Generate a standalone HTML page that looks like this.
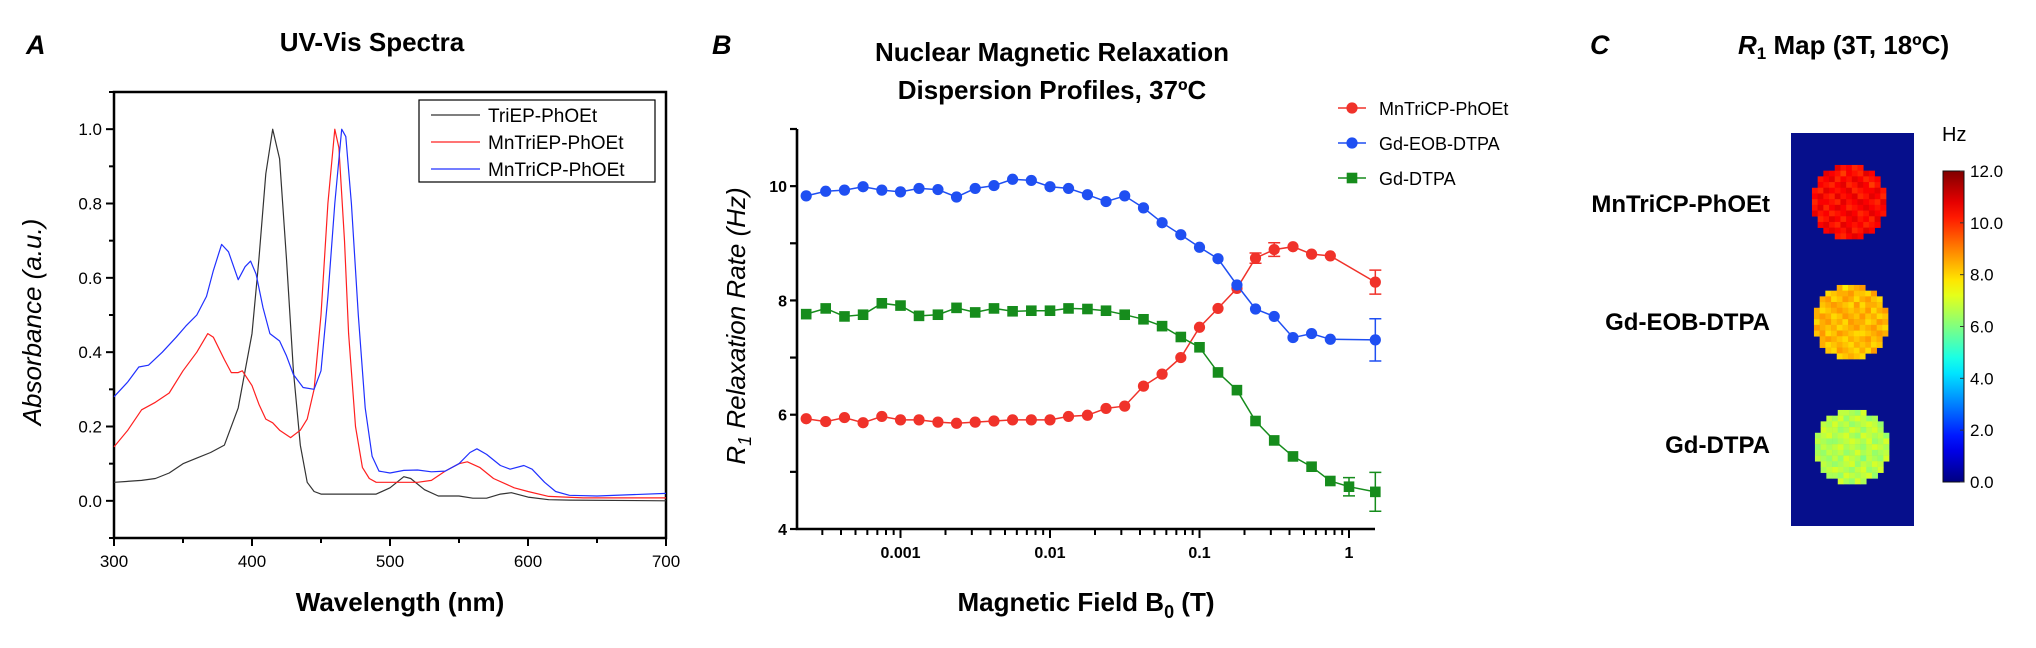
<!DOCTYPE html>
<html><head><meta charset="utf-8">
<style>
html,body{margin:0;padding:0;background:#fff;}
svg{display:block;font-family:"Liberation Sans",Arial,sans-serif;}
</style></head>
<body>
<svg id="fig" width="2036" height="648" viewBox="0 0 2036 648" xmlns="http://www.w3.org/2000/svg">
<g id="pA">
 <text x="26" y="54" font-size="27" font-weight="bold" font-style="italic">A</text>
 <text x="372" y="51" font-size="26" font-weight="bold" text-anchor="middle">UV-Vis Spectra</text>
 <text x="400" y="611" font-size="26" font-weight="bold" text-anchor="middle">Wavelength (nm)</text>
 <text transform="translate(41,322) rotate(-90)" font-size="26" font-style="italic" text-anchor="middle">Absorbance (a.u.)</text>
</g>
<g id="pB">
 <text x="712" y="54" font-size="27" font-weight="bold" font-style="italic">B</text>
 <text x="1052" y="61" font-size="26" font-weight="bold" text-anchor="middle">Nuclear Magnetic Relaxation</text>
 <text x="1052" y="99" font-size="26" font-weight="bold" text-anchor="middle">Dispersion Profiles, 37ºC</text>
 <text x="1086" y="611" font-size="26" font-weight="bold" text-anchor="middle">Magnetic Field B<tspan font-size="18" dy="7">0</tspan><tspan dy="-7"> (T)</tspan></text>
 <text transform="translate(745,326) rotate(-90)" font-size="26" font-style="italic" text-anchor="middle">R<tspan font-size="18" dy="6">1</tspan><tspan dy="-6"> Relaxation Rate (Hz)</tspan></text>
</g>
<g id="pC">
 <text x="1590" y="54" font-size="27" font-weight="bold" font-style="italic">C</text>
 <text x="1738" y="54" font-size="26" font-weight="bold"><tspan font-style="italic">R</tspan><tspan font-size="17" dy="5">1</tspan><tspan dy="-5"> Map (3T, 18ºC)</tspan></text>
</g>
</svg>
<script>
const NS="http://www.w3.org/2000/svg";
function mk(tag,attrs,parent){const e=document.createElementNS(NS,tag);for(const k in attrs)e.setAttribute(k,attrs[k]);parent.appendChild(e);return e;}

// ---------- Panel A data ----------
const uvSeriesNames=["TriEP-PhOEt","MnTriEP-PhOEt","MnTriCP-PhOEt"];
const uvColors=["#333333","#ff2020","#2030ff"];
const triepWl=[300,320,330,340,350,360,370,380,390,400,405,410,415,420,425,430,435,440,445,450,470,490,500,510,515,525,535,550,560,570,580,588,600,615,630,700];
const triepAbs=[0.05,0.055,0.06,0.075,0.1,0.115,0.13,0.15,0.25,0.45,0.65,0.88,1.0,0.92,0.65,0.35,0.15,0.05,0.025,0.018,0.018,0.018,0.035,0.065,0.06,0.03,0.013,0.013,0.007,0.007,0.018,0.022,0.01,0.003,0.002,0.0];
const mnepWl=[300,310,320,330,340,350,360,368,372,380,385,390,393,400,405,410,415,420,428,435,440,445,450,455,460,463,467,470,475,480,485,490,500,520,530,540,550,556,565,575,590,600,615,640,700];
const mnepAbs=[0.145,0.19,0.245,0.265,0.29,0.35,0.4,0.45,0.44,0.38,0.345,0.345,0.35,0.31,0.26,0.22,0.21,0.19,0.17,0.19,0.22,0.3,0.5,0.8,1.0,0.95,0.7,0.45,0.2,0.09,0.06,0.05,0.05,0.05,0.055,0.08,0.1,0.105,0.09,0.06,0.035,0.025,0.012,0.008,0.008];
const mncpWl=[300,310,318,325,335,345,352,360,367,372,378,383,390,395,399,403,408,413,420,425,430,437,445,450,455,460,465,468,472,477,482,487,492,500,510,520,530,540,550,558,563,570,580,587,597,603,612,620,630,650,700];
const mncpAbs=[0.28,0.32,0.36,0.365,0.4,0.44,0.47,0.5,0.55,0.62,0.69,0.67,0.595,0.63,0.645,0.61,0.52,0.45,0.43,0.39,0.34,0.305,0.3,0.35,0.55,0.8,1.0,0.98,0.8,0.5,0.25,0.12,0.08,0.075,0.082,0.083,0.078,0.08,0.1,0.13,0.14,0.125,0.095,0.085,0.095,0.085,0.05,0.025,0.015,0.013,0.02];
const uvXTicks=[300,400,500,600,700];
const uvYTicks=[0.0,0.2,0.4,0.6,0.8,1.0];

// ---------- Panel B data ----------
const fieldsMn=[0.000234,0.000316,0.000422,0.000562,0.00075,0.001,0.00133,0.00178,0.00237,0.00316,0.00422,0.00562,0.0075,0.01,0.0133,0.0178,0.0237,0.0316,0.0422,0.0562,0.075,0.1,0.133,0.178,0.237,0.316,0.422,0.562,0.75,1.5];
const fieldsGdDtpa=[0.000234,0.000316,0.000422,0.000562,0.00075,0.001,0.00133,0.00178,0.00237,0.00316,0.00422,0.00562,0.0075,0.01,0.0133,0.0178,0.0237,0.0316,0.0422,0.0562,0.075,0.1,0.133,0.178,0.237,0.316,0.422,0.562,0.75,1.0,1.5];
const r1Mn=[5.93,5.88,5.95,5.86,5.97,5.91,5.91,5.87,5.85,5.87,5.89,5.91,5.91,5.91,5.97,5.99,6.11,6.15,6.50,6.71,7.00,7.53,7.86,8.21,8.74,8.89,8.94,8.81,8.78,8.32];
const errMn=[0,0,0,0,0,0,0,0,0,0,0,0,0,0,0,0,0,0,0,0,0,0,0,0,0.09,0.12,0,0,0,0.21];
const r1Eob=[9.83,9.91,9.93,9.99,9.93,9.90,9.96,9.94,9.81,9.96,10.01,10.12,10.10,9.99,9.96,9.85,9.73,9.83,9.62,9.36,9.15,8.93,8.73,8.27,7.85,7.72,7.35,7.42,7.32,7.31];
const errEob=[0,0,0,0,0,0,0,0,0,0,0,0,0,0,0,0,0,0,0,0,0,0,0,0,0,0,0,0,0,0.37];
const r1Dtpa=[7.76,7.86,7.72,7.75,7.95,7.91,7.73,7.75,7.87,7.79,7.86,7.81,7.82,7.82,7.86,7.85,7.82,7.75,7.67,7.55,7.36,7.18,6.74,6.43,5.89,5.55,5.27,5.09,4.84,4.74,4.65];
const errDtpa=[0,0,0,0,0,0,0,0,0,0,0,0,0,0,0,0,0,0,0,0,0,0,0,0,0,0,0,0,0,0.16,0.34];
const nmrdNames=["MnTriCP-PhOEt","Gd-EOB-DTPA","Gd-DTPA"];
const nmrdXTicks=[0.001,0.01,0.1,1];
const nmrdXTickLabels=["0.001","0.01","0.1","1"];
const nmrdYTicks=[4,6,8,10];

// ---------- Panel C data ----------
const samples=["MnTriCP-PhOEt","Gd-EOB-DTPA","Gd-DTPA"];
const sampleMeanR1=[10.3,8.2,6.5];
const cbarTicks=[0,2,4,6,8,10,12];
const texture=[
[0,1,-1,0,2,0,1,-1,0,1,0,-1,1],
[1,-1,2,1,0,-2,1,0,-1,2,1,0,-1],
[-1,0,1,2,-1,1,0,2,1,-1,0,1,0],
[2,1,0,-1,1,2,-1,0,2,1,-2,0,1],
[0,-1,2,1,0,1,2,-1,0,1,1,2,0],
[1,2,0,-1,2,0,1,2,-1,0,2,1,-1],
[-1,1,1,0,-1,2,0,1,2,1,0,-1,2],
[0,2,-1,1,2,1,-1,0,1,2,1,0,1],
[2,0,1,-1,0,1,2,1,-1,0,2,1,0],
[1,-1,0,2,1,-1,1,2,0,1,-1,2,1],
[0,1,2,0,-1,2,1,0,1,-1,0,1,2],
[-1,0,1,2,1,0,2,-1,0,2,1,0,-1],
[1,2,0,1,0,-1,1,2,1,0,-1,1,0]];

const svg=document.getElementById('fig');
const gA=document.getElementById('pA'), gB=document.getElementById('pB'), gC=document.getElementById('pC');

// ===== Panel A =====
const AX0=114,AX1=666,AY0=92,AY1=538;
const ax=w=>AX0+(w-300)/400*(AX1-AX0);
const ay=v=>AY1-(v+0.1)/1.2*(AY1-AY0);
const framA=mk('rect',{x:AX0,y:AY0,width:AX1-AX0,height:AY1-AY0,fill:'none',stroke:'#000','stroke-width':2.5},gA);


for(let w=300;w<=700;w+=50){
  const t=mk('line',{x1:ax(w),x2:ax(w),y1:AY1,y2:AY1+(w%100===0?8:5),stroke:'#000','stroke-width':2},gA);
  
  
}
uvXTicks.forEach(w=>{
  const t=mk('text',{x:ax(w),y:567,'font-size':17,'text-anchor':'middle'},gA);t.textContent=w;
  
  
});
for(let i=-1;i<=11;i++){
  const v=i/10;
  const t=mk('line',{x1:AX0-(i%2===0?8:5),x2:AX0,y1:ay(v),y2:ay(v),stroke:'#000','stroke-width':2},gA);
  
  
}
uvYTicks.forEach(v=>{
  const t=mk('text',{x:102,y:ay(v)+6,'font-size':17,'text-anchor':'end'},gA);t.textContent=v.toFixed(1);
  
  
});
[[triepWl,triepAbs],[mnepWl,mnepAbs],[mncpWl,mncpAbs]].forEach((s,k)=>{
  const d=s[0].map((w,i)=>(i?'L':'M')+ax(w).toFixed(1)+','+ay(s[1][i]).toFixed(1)).join(' ');
  const p=mk('path',{d:d,fill:'none',stroke:uvColors[k],'stroke-width':1.2,'stroke-linejoin':'round'},gA);
  
  
});
const legA=mk('g',{},gA);


mk('rect',{x:419,y:100,width:236,height:82,fill:'#fff',stroke:'#000','stroke-width':1.2},legA);
uvSeriesNames.forEach((n,k)=>{
  const y=115+k*27;
  const g=mk('g',{},legA);
  
  
  mk('line',{x1:431,x2:480,y1:y,y2:y,stroke:uvColors[k],'stroke-width':1.2},g);
  const t=mk('text',{x:488,y:y+7,'font-size':19},g);t.textContent=n;
});

// ===== Panel B =====
const BX0=797,BX1=1375,BY0=129,BY1=529;
const bx=f=>900.5+(Math.log10(f)+3)*149.5;
const by=v=>BY1-(v-4)/7*(BY1-BY0);
const axB=mk('path',{d:`M${BX0},${BY0} L${BX0},${BY1} L${BX1},${BY1}`,fill:'none',stroke:'#000','stroke-width':2.6},gB);


for(let v=4;v<=11;v++){
  const t=mk('line',{x1:BX0-7,x2:BX0,y1:by(v),y2:by(v),stroke:'#000','stroke-width':2.2},gB);
  
  
}
nmrdYTicks.forEach(v=>{
  const t=mk('text',{x:787,y:by(v)+6,'font-size':16,'font-weight':'bold','text-anchor':'end'},gB);t.textContent=v;
  
  
});
for(let e=-4;e<=0;e++){
  for(let m=1;m<=9;m++){
    const f=m*Math.pow(10,e);const x=bx(f);
    if(x<BX0-0.5||x>BX1)continue;
    const t=mk('line',{x1:x,x2:x,y1:BY1,y2:BY1+(m===1?9:6),stroke:'#000','stroke-width':2},gB);
    
    
  }
}
nmrdXTicks.forEach((f,i)=>{
  const t=mk('text',{x:bx(f),y:558,'font-size':16,'font-weight':'bold','text-anchor':'middle'},gB);t.textContent=nmrdXTickLabels[i];
  
  
});
const nmrdSeries=[[fieldsMn,r1Mn,errMn,'#f0322a','circle'],[fieldsMn,r1Eob,errEob,'#1f4ff2','circle'],[fieldsGdDtpa,r1Dtpa,errDtpa,'#168c1c','square']];
nmrdSeries.forEach((s,k)=>{
  const g=mk('g',{},gB);
  
  
  const d=s[0].map((f,i)=>(i?'L':'M')+bx(f).toFixed(1)+','+by(s[1][i]).toFixed(1)).join(' ');
  mk('path',{d:d,fill:'none',stroke:s[3],'stroke-width':1.5},g);
  s[0].forEach((f,i)=>{
    const x=bx(f),y=by(s[1][i]);
    if(s[2][i]>0){
      const y1=by(s[1][i]+s[2][i]),y2=by(s[1][i]-s[2][i]);
      const eb=mk('path',{d:`M${x},${y1} L${x},${y2} M${x-6},${y1} L${x+6},${y1} M${x-6},${y2} L${x+6},${y2}`,stroke:s[3],'stroke-width':1.5,fill:'none'},g);
      
      
    }
    let m;
    if(s[4]==='circle')m=mk('circle',{cx:x,cy:y,r:5.6,fill:s[3]},g);
    else m=mk('rect',{x:x-5.3,y:y-5.3,width:10.6,height:10.6,fill:s[3]},g);
    
    
  });
});
const legB=mk('g',{},gB);


nmrdNames.forEach((n,k)=>{
  const y=[108,143,178][k];const c=nmrdSeries[k][3];
  const g=mk('g',{},legB);
  
  
  mk('line',{x1:1338,x2:1366,y1:y,y2:y,stroke:c,'stroke-width':1.5},g);
  if(k<2)mk('circle',{cx:1352,cy:y,r:5.6,fill:c},g);else mk('rect',{x:1346.7,y:y-5.3,width:10.6,height:10.6,fill:c},g);
  const t=mk('text',{x:1379,y:y+7,'font-size':18},g);t.textContent=n;
});

// ===== Panel C =====
function jet(v){
  const r=Math.min(Math.max(Math.min(4*v-1.5,-4*v+4.5),0),1);
  const g=Math.min(Math.max(Math.min(4*v-0.5,-4*v+3.5),0),1);
  const b=Math.min(Math.max(Math.min(4*v+0.5,-4*v+2.5),0),1);
  return `rgb(${Math.round(r*255)},${Math.round(g*255)},${Math.round(b*255)})`;
}
const defs=mk('defs',{},svg);
const grad=mk('linearGradient',{id:'jetg',x1:0,y1:1,x2:0,y2:0},defs);
for(let i=0;i<=20;i++){mk('stop',{offset:i/20,'stop-color':jet(i/20)},grad);}
const bg=mk('rect',{x:1791,y:133,width:123,height:393,fill:'#060f8c'},gC);


const centers=[[1849,202],[1851,322],[1852,447]];
const labY=[212,330,453];
const PX=5.7,N=13;
samples.forEach((s,k)=>{
  const g=mk('g',{},gC);
  
  
  const [cx,cy]=centers[k];
  for(let i=0;i<N;i++)for(let j=0;j<N;j++){
    const dx=i-(N-1)/2,dy=j-(N-1)/2;
    if(dx*dx+dy*dy>(N/2)*(N/2)-1)continue;
    const v=sampleMeanR1[k]+texture[(j+k*3)%N][(i+k*5)%N]*0.25;
    const c=mk('rect',{x:cx+dx*PX-PX/2,y:cy+dy*PX-PX/2,width:PX+0.3,height:PX+0.3,fill:jet(Math.min(v,12)/12)},g);
    
    
  }
  const t=mk('text',{x:1770,y:labY[k],'font-size':24,'font-weight':'bold','text-anchor':'end'},gC);t.textContent=s;
  
  
});
const CB0=171,CB1=482;
const cb=mk('rect',{x:1943,y:CB0,width:21,height:CB1-CB0,fill:'url(#jetg)',stroke:'#111','stroke-width':1},gC);


const hz=mk('text',{x:1942,y:141,'font-size':20},gC);hz.textContent='Hz';


cbarTicks.forEach(v=>{
  const y=CB1-v/12*(CB1-CB0);
  mk('line',{x1:1960,x2:1964,y1:y,y2:y,stroke:'#333','stroke-width':1},gC);
  const t=mk('text',{x:1970,y:y+6,'font-size':17},gC);t.textContent=v.toFixed(1);
  
  
});
</script>
</body></html>
